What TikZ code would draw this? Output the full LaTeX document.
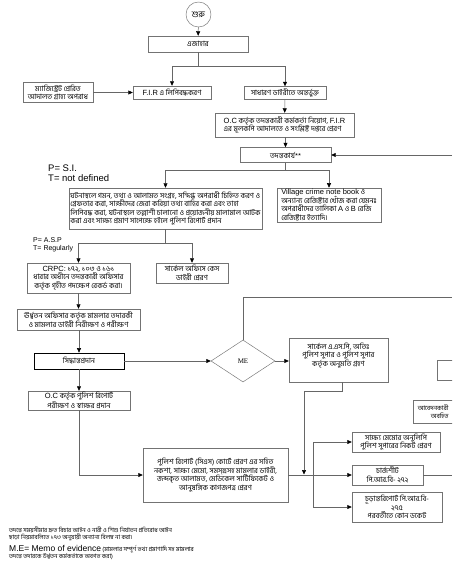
\documentclass[tikz,border=0pt]{standalone}
\usepackage{fontspec}
\setmainfont{Liberation Sans}
\newfontfamily\bnf[Script=Bengali]{Hind Siliguri}
\newfontfamily\serf{Liberation Serif}
\usetikzlibrary{arrows.meta,shapes.geometric}
\newcommand\lat[1]{{\rmfamily\fontsize{7.5}{8}\selectfont #1}}
\tikzset{
 bx/.style={draw=black!55, line width=0.45pt, inner sep=1.2pt, align=center, font=\bnf\fontsize{7.3}{8.6}\selectfont},
 bxl/.style={bx, align=left},
 ln/.style={draw=black!60, line width=0.5pt},
 arr/.style={ln, -{Triangle[length=4.5pt,width=4pt,color=black]}},
 lbl/.style={inner sep=0pt, anchor=base west, align=left},
}
\begin{document}
\begin{tikzpicture}[x=1pt,y=-1pt]
\useasboundingbox (0,0) rectangle (452,569);
\clip (0,0) rectangle (452,569);
\fill[white] (0,0) rectangle (452,569);

% nodes
\node[draw=black!55, line width=0.45pt, ellipse, minimum width=25pt, minimum height=25pt, inner sep=0pt, font=\bnf\fontsize{8.5}{8}\selectfont] (start) at (198.5,14.5) {শুরু};
\node[bx, minimum width=100pt, minimum height=16pt] (ejahar) at (198,44) {এজাহার};
\node[bx, minimum width=70pt, minimum height=20pt] (mag) at (58,92.5) {ম্যাজিস্ট্রেট প্রেরিত\\আদালত গ্রাহ্য অপরাধ};
\node[bx, minimum width=78pt, minimum height=13pt] (fir) at (172,92.5) {\lat{F.I.R} এ লিপিবদ্ধকরণ};
\node[bx, minimum width=82pt, minimum height=13pt] (gd) at (285,93) {সাধারণ ডাইরীতে অন্তর্ভুক্ত};
\node[bxl, minimum width=139pt, minimum height=24pt] (oc1) at (284.5,125) {\lat{O.C} কর্তৃক তদন্তকারী কর্মকর্তা নিয়োগ, \lat{F.I.R}\\এর মূলকপি আদালতে ও সংশ্লিষ্ট দপ্তরে প্রেরণ};
\node[bx, minimum width=91pt, minimum height=15pt] (tad) at (285.5,155) {তদন্তকার্য**};
\node[bxl, minimum width=193pt, minimum height=41pt] (big) at (165.5,208.5) {ঘটনাস্থলে গমন, তথ্য ও আলামত সংগ্রহ, সন্দিগ্ধ অপরাধী চিহ্নিত করণ ও\\গ্রেফতার করা, সাক্ষীদের জেরা করিয়া তথ্য বাহির করা এবং তাহা\\লিপিবদ্ধ করা, ঘটনাস্থলে তল্লাশী চালানো ও প্রয়োজনীয় মালামাল আটক\\করা এবং সাক্ষ্য প্রমাণ সাপেক্ষে হইলে পুলিশ রিপোর্ট প্রদান};
\node[bxl, minimum width=104pt, minimum height=34pt] (vil) at (329,205) {\lat{Village crime note book} ও\\অন্যান্য রেজিষ্টার খোঁজ করা যেমনঃ\\অপরাধীদের তালিকা \lat{A} ও \lat{B} রেজি\\রেজিষ্টার ইত্যাদি।};
\node[bx, minimum width=103pt, minimum height=30pt] (crpc) at (78.5,278) {\lat{CRPC:} ১৭২, ১০৩ ও ১৬১\\ধারার অধীনে তদন্তকারী অফিসার\\কর্তৃক গৃহীত পদক্ষেপ রেকর্ড করা।};
\node[bx, minimum width=72pt, minimum height=20pt] (circ) at (192,273) {সার্কেল অফিসে কেস\\ডাইরী প্রেরণ};
\node[bx, minimum width=123pt, minimum height=21pt, inner sep=0.5pt] (urd) at (78.5,319.5) {ঊর্ধ্বতন অফিসার কর্তৃক মামলার তদারকী\\ও মামলার ডাইরী নিরীক্ষণ ও পরীক্ষণ};
\node[bx, draw=black, line width=0.7pt, minimum width=90pt, minimum height=16pt] (sid) at (79,361) {সিদ্ধান্তপ্রদান};
\node[draw=black!55, line width=0.45pt, diamond, aspect=1.52, minimum width=64pt, minimum height=42pt, inner sep=0pt, font=\serf\fontsize{7}{8}\selectfont] (me) at (243,361) {ME};
\node[bx, minimum width=99pt, minimum height=44pt] (sar) at (338.5,360) {সার্কেল এ.এস.পি, অতিঃ\\পুলিশ সুপার ও পুলিশ সুপার\\কর্তৃক অনুমতি গ্রহণ\\[2pt]\mbox{}};
\node[bx, minimum width=40pt, minimum height=20pt, anchor=west] (rb1) at (437,370) {};
\node[bx, align=left, inner sep=3pt, minimum width=60pt, minimum height=23pt, anchor=west, font=\bnf\fontsize{6.3}{8}\selectfont] (rb2) at (413,411.5) {আবেদনকারী\\\hspace*{13pt}অবহিত\hspace*{20pt}};
\node[bx, minimum width=102pt, minimum height=19pt] (oc2) at (79,400.5) {\lat{O.C} কর্তৃক পুলিশ রিপোর্ট\\পরীক্ষণ ও স্বাক্ষর প্রদান};
\node[bx, minimum width=145pt, minimum height=54pt] (pol) at (215.5,475) {পুলিশ রিপোর্ট (সিএস) কোর্টে প্রেরণ এর সহিত\\নকশা, সাক্ষ্য মেমো, সমস্ত্ত্রসহ মামলার ডাইরী,\\জব্দকৃত আলামত, মেডিকেল সার্টিফিকেট ও\\আনুষঙ্গিক কাগজপত্র প্রেরণ};
\node[bx, minimum width=88pt, minimum height=20pt, inner sep=0.5pt] (sak) at (396,442) {সাক্ষ্য মেমোর অনুলিপি\\পুলিশ সুপারের নিকট প্রেরণ};
\node[bx, minimum width=71pt, minimum height=20pt] (chg) at (387.5,475) {চার্জশীট\\পি.আর.বি- ২৭২};
\node[bx, minimum width=90pt, minimum height=30pt] (fin) at (397,507) {চূড়ান্তরিপোর্ট পি.আর.বি-\\২৭৫\\পরবর্তীতে কোন ডকেট};

% labels
\node[lbl, font=\fontsize{9.5}{10}\selectfont] (psi) at (48,172) {P= S.I.};
\node[lbl, font=\fontsize{9.5}{10}\selectfont] (tnd) at (48,182) {T= not defined};
\node[lbl, font=\fontsize{7}{8}\selectfont] (pasp) at (33,242) {P= A.S.P};
\node[lbl, font=\fontsize{7}{8}\selectfont] (treg) at (33,250) {T= Regularly};

\node[lbl, font=\bnf\fontsize{6}{5}\selectfont] (n1) at (9,532) {তদন্তে সময়সীমার দ্রুত বিচার আইন ও নারী ও শিশু নির্যাতন প্রতিরোধ আইন};
\node[lbl, font=\bnf\fontsize{6}{5}\selectfont] (n2) at (9,539.5) {ছাড়া নিয়মাবলিতে ১৭৩ অনুযায়ী অন্যান্য বিলম্ব না করা।};
\node[lbl, font=\bnf\fontsize{6}{5}\selectfont] (n3) at (9,551) {{\rmfamily\fontsize{8.5}{9}\selectfont M.E= Memo of evidence} (মামলার সম্পূর্ণ তথ্য প্রমাণাদি সহ মামলার};
\node[lbl, font=\bnf\fontsize{6}{5}\selectfont] (n4) at (9,558.5) {তদন্তে তদারকে উর্ধ্বতন কর্মকর্তাকে অবগত করা)};

% coordinates
\coordinate (s1) at (198,66);
\coordinate (s2) at (285.5,170);
\coordinate (s3) at (165.5,243);
\coordinate (rt1) at (452,155);
\coordinate (rt2) at (452,297);
\coordinate (rt3) at (452,475);
\coordinate (a1) at (342,391);
\coordinate (a2) at (304,391);
\coordinate (a3) at (304,474.5);
\coordinate (j) at (313,475);

% connectors
\draw[arr] (start) -- (ejahar);
\draw[ln] (ejahar) -- (s1);
\draw[arr] (s1) -| (fir);
\draw[arr] (s1) -| (gd);
\draw[arr] (mag) -- (fir);
\draw[arr] (gd) -- (oc1);
\draw[arr] (oc1.south -| tad) -- (tad);
\draw[arr] (rt1) -- (tad);
\draw[ln] (tad) -- (s2);
\draw[arr] (s2) -| (big);
\draw[arr] (s2) -| (vil);
\draw[ln] (big) -- (s3);
\draw[arr] (s3) -| (crpc);
\draw[arr] (s3) -| (circ);
\draw[arr] (crpc) -- (urd);
\draw[arr] (urd.south -| sid) -- (sid);
\draw[arr] (sid) -- (me);
\draw[arr] (sid.south -| oc2) -- (oc2);
\draw[ln] (me.north) |- (rt2);
\draw[arr] (me.east) -- (me.east -| sar.west);
\draw[ln] (sar.south -| a1) -- (a1) -- (a2);
\draw[arr] (a2) -- (a3);
\draw[arr] (oc2) |- (pol);
\draw[arr] (pol) -- (chg);
\draw[arr] (j) |- (sak);
\draw[arr] (j) |- (fin);
\draw[ln] (chg) -- (rt3);
\end{tikzpicture}
\end{document}
